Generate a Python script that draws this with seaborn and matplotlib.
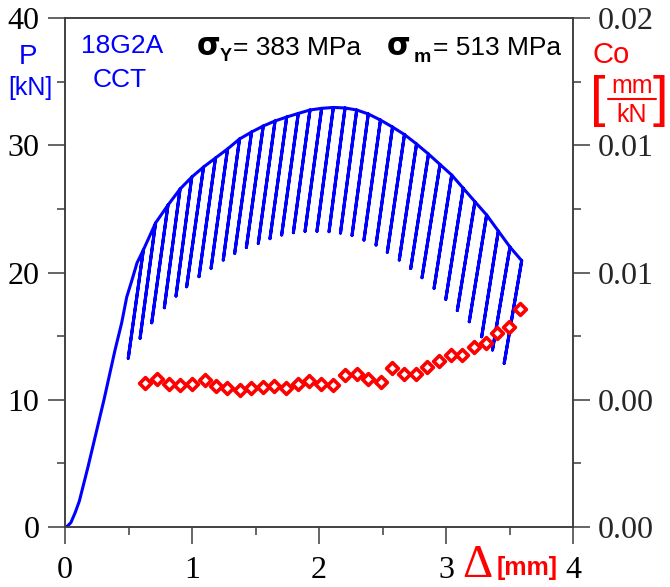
"""Load-displacement record with unloading cycles and compliance (18G2A, CCT)"""
import matplotlib
matplotlib.use('Agg')
import matplotlib.pyplot as plt
from matplotlib.lines import Line2D
from matplotlib.ticker import MultipleLocator
import numpy as np
import pandas as pd
import seaborn as sns

# first loading branch up to the first unloading
load_d = [0.0, 0.016, 0.046, 0.079, 0.113, 0.181, 0.254, 0.307, 0.394, 0.446, 0.486, 0.525, 0.567]
load_p = [0.0, 0.04, 0.34, 1.10, 2.04, 4.72, 7.78, 10.0, 13.91, 16.03, 18.07, 19.33, 20.75]

# start of each unloading (on the envelope)
top_d = [0.617, 0.713, 0.811, 0.906, 0.998, 1.091, 1.185, 1.280, 1.374, 1.469, 1.561,
         1.654, 1.746, 1.837, 1.929, 2.021, 2.113, 2.205, 2.297, 2.388, 2.484, 2.579,
         2.673, 2.768, 2.862, 2.953, 3.045, 3.136, 3.228, 3.320, 3.412, 3.504, 3.596]
top_p = [21.77, 23.89, 25.30, 26.56, 27.50, 28.29, 29.00, 29.71, 30.49, 31.04, 31.51,
         31.91, 32.22, 32.50, 32.77, 32.90, 32.97, 32.93, 32.77, 32.46, 31.98, 31.43,
         30.84, 30.10, 29.31, 28.49, 27.66, 26.62, 25.56, 24.52, 23.26, 22.00, 20.93]

# end of each unloading
tip_d = [0.498, 0.591, 0.683, 0.782, 0.874, 0.958, 1.055, 1.150, 1.246, 1.336, 1.428,
         1.522, 1.614, 1.706, 1.798, 1.890, 1.984, 2.079, 2.169, 2.260, 2.354, 2.449,
         2.538, 2.632, 2.722, 2.811, 2.906, 2.998, 3.089, 3.183, 3.281, 3.366, 3.458]
tip_p = [13.26, 14.83, 16.05, 17.23, 18.15, 18.88, 19.67, 20.33, 20.98, 21.51, 21.96,
         22.29, 22.66, 22.95, 23.13, 23.24, 23.25, 23.21, 23.10, 22.92, 22.55, 22.16,
         21.59, 20.98, 20.31, 19.59, 18.76, 17.89, 17.01, 16.13, 14.95, 13.91, 12.86]

# compliance Co [mm/kN]
co_d = [0.630, 0.727, 0.819, 0.908, 1.000, 1.102, 1.189, 1.278, 1.376, 1.467, 1.559,
        1.646, 1.738, 1.837, 1.924, 2.018, 2.113, 2.205, 2.297, 2.388, 2.486, 2.575,
        2.667, 2.761, 2.853, 2.945, 3.037, 3.128, 3.220, 3.312, 3.399, 3.496, 3.585]
co_val = [0.00567, 0.00580, 0.00563, 0.00559, 0.00562, 0.00576, 0.00555, 0.00545,
          0.00538, 0.00545, 0.00549, 0.00554, 0.00546, 0.00561, 0.00575, 0.00561,
          0.00558, 0.00598, 0.00601, 0.00582, 0.00569, 0.00625, 0.00601, 0.00601,
          0.00630, 0.00653, 0.00675, 0.00675, 0.00706, 0.00724, 0.00761, 0.00787, 0.00857]

co_ticks = [0.0, 0.005, 0.01, 0.015, 0.02]
co_ticklabels = ['0.00', '0.00', '0.01', '0.01', '0.02']

W, H = 670, 587
SPINE = '#3c3c3c'

sns.set_style('ticks')
plt.rcParams['font.family'] = ['Liberation Serif', 'DejaVu Sans']

# path: load, then unload / reload at every cycle
path_d = list(load_d)
path_p = list(load_p)
for td, tp, ud, up in zip(top_d, top_p, tip_d, tip_p):
    path_d += [td, ud, td]
    path_p += [tp, up, tp]
path_df = pd.DataFrame({'d': path_d, 'p': path_p})
co_df = pd.DataFrame({'d': co_d, 'co': co_val})

fig = plt.figure(figsize=(W / 100, H / 100), dpi=100)
ax = fig.add_axes([65 / W, 60 / H, 508 / W, 509 / H])

sns.lineplot(data=path_df, x='d', y='p', sort=False, estimator=None,
             color='#0000ff', linewidth=2.2, ax=ax)
ax.set_xlim(0, 4)
ax.set_ylim(0, 40)
ax.set_xlabel('')
ax.set_ylabel('')
ax.xaxis.set_major_locator(MultipleLocator(1))
ax.xaxis.set_minor_locator(MultipleLocator(0.5))
ax.yaxis.set_major_locator(MultipleLocator(10))
ax.yaxis.set_minor_locator(MultipleLocator(5))

ax2 = ax.twinx()
sns.scatterplot(data=co_df, x='d', y='co', marker='D', s=36, facecolor='white',
                edgecolor='#ff0000', linewidth=2.6, zorder=5, ax=ax2)
ax2.set_ylim(0, 0.02)
ax2.set_yticks(co_ticks)
ax2.set_yticklabels(co_ticklabels)
ax2.yaxis.set_minor_locator(MultipleLocator(0.0025))
ax2.set_ylabel('')

for a in (ax, ax2):
    for s in a.spines.values():
        s.set_color(SPINE)
        s.set_linewidth(1.1)
ax.tick_params(axis='both', which='major', direction='out', length=12, width=1.1,
               color=SPINE, labelsize=23, labelcolor='black')
ax.tick_params(axis='both', which='minor', direction='out', length=6, width=1.1, color=SPINE)
ax.tick_params(axis='y', pad=6.5)
ax.tick_params(axis='x', pad=9)
ax2.tick_params(axis='y', which='major', direction='out', length=12, width=1.1,
                color=SPINE, labelsize=23, pad=5.8)
ax2.tick_params(axis='y', which='minor', direction='out', length=6, width=1.1, color=SPINE)


def ftext(x, y, s, **kw):
    fig.text(x / W, 1 - y / H, s, va='baseline', **kw)


sans = 'Liberation Sans'
ftext(28, 64, 'P', ha='center', color='#0000ff', size=20, family=sans)
ftext(30, 95, '[kN]', ha='center', color='#0000ff', size=18, family=sans)
ftext(122, 53, '18G2A', ha='center', color='#0000ff', size=19, family=sans)
ftext(120, 87, 'CCT', ha='center', color='#0000ff', size=19, family=sans)

ftext(197, 55, 'σ', ha='left', color='black', size=22, weight='bold', family='DejaVu Sans')
ftext(220, 61, 'Y', ha='left', color='black', size=13, weight='bold', family=sans)
ftext(233, 55, '= 383 MPa', ha='left', color='black', size=19, family=sans)
ftext(387, 55, 'σ', ha='left', color='black', size=22, weight='bold', family='DejaVu Sans')
ftext(414, 62, 'm', ha='left', color='black', size=14, weight='bold', family=sans)
ftext(433, 55, '= 513 MPa', ha='left', color='black', size=19, family=sans)

ftext(592, 63, 'Co', ha='left', color='#ff0000', size=21, family=sans)
ftext(590, 115, '[', ha='left', color='#ff0000', size=40, family=sans)
ftext(632, 93, 'mm', ha='center', color='#ff0000', size=18, family=sans)
ftext(632, 122, 'kN', ha='center', color='#ff0000', size=18, family=sans)
ftext(653, 115, ']', ha='left', color='#ff0000', size=40, family=sans)
fig.add_artist(Line2D([608 / W, 656 / W], [1 - 99 / H, 1 - 99 / H], color='#ff0000', lw=1.5))

ftext(477, 577, 'Δ', ha='center', color='#ff0000', size=34, family='Liberation Serif')
ftext(497, 575, '[mm]', ha='left', color='#ff0000', size=18, weight='bold', family=sans)

fig.savefig('out.png', dpi=100)
